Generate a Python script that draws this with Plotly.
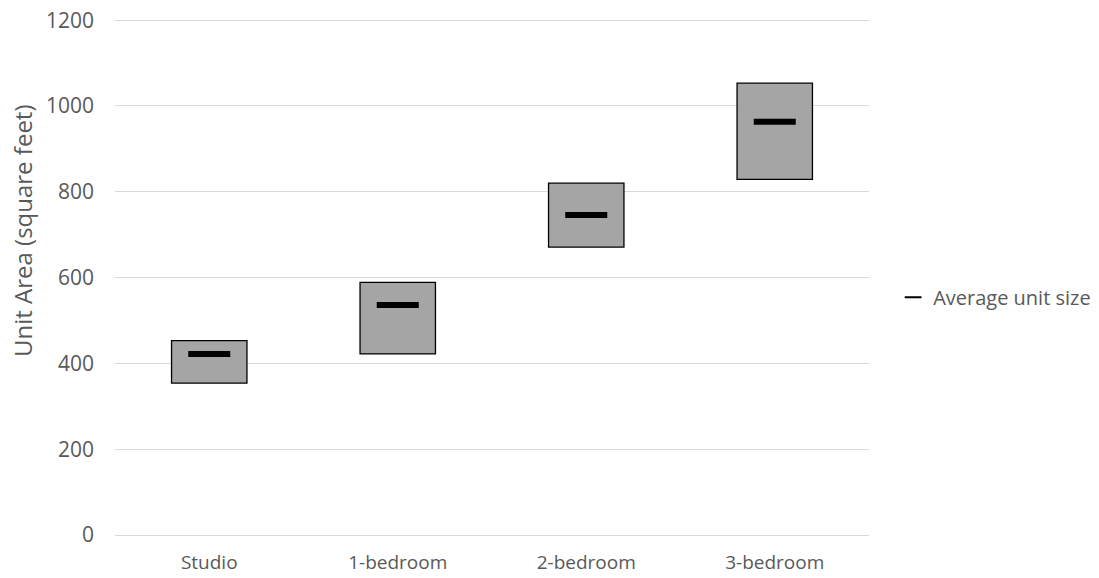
import plotly.graph_objects as go

# Unit size ranges by unit type (square feet)
unit_types = ["Studio", "1-bedroom", "2-bedroom", "3-bedroom"]
size_low = [354, 422, 671, 829]
size_high = [453, 589, 820, 1053]
size_avg = [422, 536, 746, 963]

font_family = "Open Sans, Liberation Sans, sans-serif"
text_color = "#595959"

fig = go.Figure()

# Low-high range boxes
fig.add_trace(go.Bar(
    x=unit_types,
    y=[h - l for h, l in zip(size_high, size_low)],
    base=size_low,
    width=0.4,
    marker=dict(color="#A5A5A5", line=dict(color="#000000", width=1.3)),
    showlegend=False,
    hoverinfo="skip",
))

# Average marker
fig.add_trace(go.Scatter(
    x=unit_types,
    y=size_avg,
    mode="markers",
    name="Average unit size",
    marker=dict(symbol="line-ew", size=30, color="#000000",
                line=dict(color="#000000", width=6)),
    hoverinfo="skip",
))

# Vertical axis title
fig.add_annotation(
    text="Unit Area (square feet)",
    xref="paper", yref="paper",
    x=-0.1233, y=0.588,
    xanchor="center", yanchor="middle",
    textangle=-90,
    showarrow=False,
    font=dict(size=24, color=text_color),
)

fig.update_layout(
    width=1099,
    height=578,
    margin=dict(l=115, r=230, t=18, b=43, autoexpand=False),
    paper_bgcolor="white",
    plot_bgcolor="white",
    font=dict(family=font_family, size=20, color=text_color),
    legend=dict(
        x=1.032, y=0.46, xanchor="left", yanchor="middle",
        font=dict(size=20, color=text_color),
        itemsizing="constant",
        bgcolor="rgba(0,0,0,0)",
    ),
    xaxis=dict(
        showgrid=False,
        showline=False,
        ticks="",
        automargin=False,
        ticklabelstandoff=14,
        tickfont=dict(size=19, color=text_color),
    ),
    yaxis=dict(
        range=[0, 1205],
        tickvals=[0, 200, 400, 600, 800, 1000, 1200],
        showgrid=True,
        gridcolor="#D9D9D9",
        gridwidth=1,
        zeroline=True,
        zerolinecolor="#D9D9D9",
        zerolinewidth=1,
        showline=False,
        ticks="",
        automargin=False,
        ticklabelstandoff=20,
        tickfont=dict(size=21, color=text_color),
    ),
)

fig.write_html("out.html")
